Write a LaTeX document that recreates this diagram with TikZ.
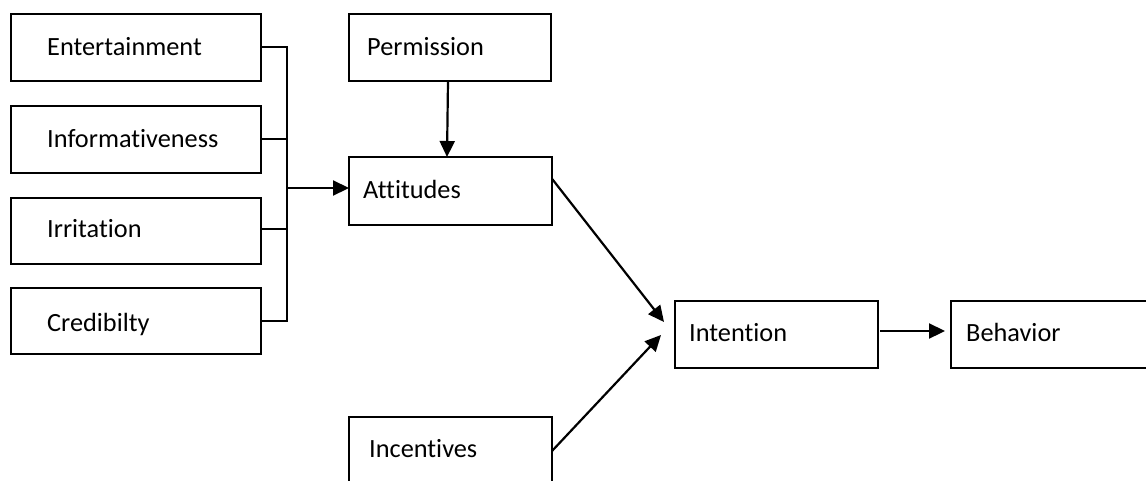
\documentclass[tikz,border=0pt]{standalone}
\usepackage{fontspec}
\setmainfont{Carlito}[RawFeature={-liga;-clig}]
\usetikzlibrary{arrows.meta,calc}

\tikzset{
  box/.style={draw, line width=2.3pt, rectangle, inner sep=0pt, outer sep=0pt,
              minimum width=#1},
  box/.default=250pt,
  lbl/.style={anchor=base west, inner sep=0pt, font=\fontsize{26.3}{31}\selectfont},
  conn/.style={line width=2.2pt},
  arr/.style={line width=2.2pt, -{Triangle[length=16pt,width=15pt]}},
}

\begin{document}
\begin{tikzpicture}[x=1pt, y=-1pt]
  \useasboundingbox (0,0) rectangle (1146,480);
  \clip (0,0) rectangle (1146,480);

  % antecedent boxes on the left
  \node[box, minimum height=67pt] (ent)  at (136,47.5)  {};
  \node[box, minimum height=67pt] (inf)  at (136,139.5) {};
  \node[box, minimum height=66pt] (irr)  at (136,231)   {};
  \node[box, minimum height=66pt] (cred) at (136,321)   {};
  \node[lbl] (entT)  at (47,55)  {Entertainment};
  \node[lbl] (infT)  at (47,147) {Informativeness};
  \node[lbl] (irrT)  at (47,237) {Irritation};
  \node[lbl] (credT) at (47,331) {Credibilty};

  % middle column
  \node[box=202pt, minimum height=67pt] (perm) at (450,47.5)  {};
  \node[box=203pt, minimum height=68pt] (att)  at (450.5,191) {};
  \node[box=203pt, minimum height=110pt] (inc) at (450.5,472) {};
  \node[lbl] (permT) at (367,55)  {Permission};
  \node[lbl] (attT)  at (363,198) {Attitudes};
  \node[lbl] (incT)  at (369,457) {Incentives};

  % right column
  \node[box=203pt, minimum height=67pt] (int) at (776.5,334.5) {};
  \node[box=230pt, minimum height=67pt] (beh) at (1066,334.5)  {};
  \node[lbl] (intT) at (689,341) {Intention};
  \node[lbl] (behT) at (966,341) {Behavior};

  % bracket joining the four antecedents
  \coordinate (bTop) at (287,47);
  \coordinate (bBot) at (287,321);
  \coordinate (bMid) at (287,188);
  \draw[conn] (ent.east |- bTop) -- (bTop) -- (bBot) -- (cred.east |- bBot);
  \draw[conn] (inf.east |- 0,139) -- (287,139);
  \draw[conn] (irr.east |- 0,229) -- (287,229);
  \draw[arr] (bMid) -- (att.west |- bMid);

  % permission into attitudes
  \draw[arr] ([xshift=-2pt]perm.south) -- ([xshift=-3.5pt]att.north);

  % attitudes and incentives into intention
  \coordinate (tipA) at (664,322);
  \coordinate (tipI) at (661,335);
  \draw[arr] ($(att.north east)!0.32!(att.south east)$) -- (tipA);
  \draw[arr] ([yshift=-34pt]inc.north east) -- (tipI);

  % intention into behavior
  \draw[arr, shorten >=6pt] ([yshift=3.5pt,xshift=2pt]int.east) -- ([yshift=3.5pt]beh.west);
\end{tikzpicture}
\end{document}
